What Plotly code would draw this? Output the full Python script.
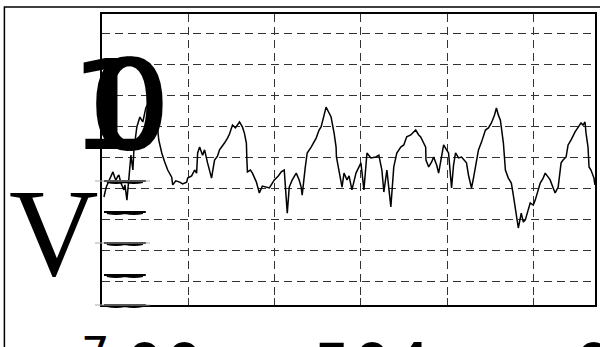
import plotly.graph_objects as go

# Time axis (ms) and measured voltage (V)
t_ms = [2.3, 4.6, 6.9, 9.2, 11.5, 12.7, 15.0, 16.2, 18.5, 19.6, 21.9, 23.1, 25.4, 26.6, 28.9,
        31.2, 32.3, 33.5, 35.8, 37.0, 40.4, 43.9, 47.3, 50.8, 54.3, 57.7, 61.2, 63.5, 65.8,
        69.3, 72.7, 76.2, 80.8, 82.0, 85.5, 90.1, 93.5, 98.2, 99.3, 103.9, 107.4, 109.7,
        110.9, 113.2, 116.6, 118.9, 122.4, 127.0, 130.5, 133.9, 136.3, 139.7, 142.0, 145.5,
        147.8, 151.3, 154.7, 159.4, 162.8, 165.1, 167.4, 168.0, 168.6, 172.1, 174.4, 179.0,
        182.4, 185.9, 190.5, 194.0, 197.5, 199.8, 204.4, 207.9, 211.3, 214.8, 217.1, 220.6,
        225.2, 228.6, 230.9, 232.1, 235.6, 237.9, 242.5, 246.0, 248.3, 251.7, 254.0, 257.5,
        259.8, 263.3, 265.6, 269.1, 271.4, 271.8, 274.8, 278.3, 280.6, 284.1, 286.4, 289.8,
        294.5, 297.9, 300.2, 303.7, 307.2, 311.8, 317.6, 321.0, 324.5, 326.8, 330.3, 334.9,
        338.3, 341.8, 346.4, 349.9, 353.3, 358.0, 363.7, 367.2, 369.5, 375.3, 375.6, 378.8,
        382.2, 384.5, 388.0, 390.3, 393.8, 396.1, 399.5, 401.8, 405.3, 407.6, 409.9, 413.4,
        416.9, 420.3, 422.6, 424.9, 428.4, 430.7, 433.0, 436.5, 440.0, 444.6, 448.0, 451.5,
        455.0, 457.3, 459.6, 461.9, 465.4, 467.7, 471.1, 474.6, 476.9, 479.2, 481.5, 482.7,
        486.1, 488.5, 490.8, 494.2, 496.5, 500.0, 502.3, 505.8, 508.1, 511.5, 513.9, 517.3,
        519.6, 523.1, 525.4, 528.9, 532.3, 534.6, 538.1, 540.4, 543.9, 548.5, 552.0, 555.4,
        557.7, 560.0, 561.2, 563.5, 564.7, 566.9, 570.4, 571.5]
voltage = [3.71, 4.00, 4.16, 4.32, 4.45, 4.52, 4.32, 4.26, 4.39, 4.42, 4.16, 4.06, 3.94, 4.10,
           3.61, 4.32, 4.74, 5.06, 4.58, 5.23, 5.97, 6.29, 6.13, 6.58, 6.77, 6.84, 6.52, 6.19,
           5.55, 5.13, 4.84, 4.58, 4.35, 4.10, 4.23, 4.19, 4.13, 4.19, 4.32, 4.39, 4.58, 4.48,
           5.13, 5.32, 5.06, 5.23, 4.81, 4.32, 4.90, 5.03, 5.23, 5.35, 5.45, 5.61, 5.74, 6.03,
           5.94, 6.13, 5.97, 5.77, 5.45, 4.90, 4.52, 4.58, 4.48, 4.19, 3.84, 4.06, 4.03, 4.00,
           4.16, 4.26, 4.39, 4.52, 4.58, 3.19, 4.03, 4.26, 4.48, 4.26, 4.03, 3.77, 4.65, 5.13,
           5.32, 5.48, 5.61, 5.87, 5.97, 6.35, 6.61, 6.42, 6.29, 5.77, 5.32, 5.00, 4.58, 4.03,
           4.48, 4.26, 4.39, 3.94, 4.48, 4.65, 4.81, 3.94, 5.13, 4.97, 5.00, 5.06, 4.58, 3.87,
           4.58, 3.39, 4.68, 5.13, 5.32, 5.39, 5.65, 5.71, 5.87, 5.71, 5.65, 5.32, 4.90, 4.68,
           4.84, 5.00, 4.74, 4.48, 5.06, 5.39, 5.23, 5.13, 4.00, 4.74, 5.13, 4.97, 5.00, 4.90,
           4.81, 4.42, 4.00, 4.32, 4.68, 5.23, 5.48, 5.87, 5.94, 6.10, 6.35, 6.58, 6.35, 6.19,
           5.45, 4.58, 4.32, 4.16, 3.77, 3.39, 2.97, 2.71, 3.19, 2.90, 2.97, 3.29, 3.52, 3.45,
           3.61, 3.94, 4.16, 4.32, 4.48, 4.35, 4.26, 4.00, 3.84, 4.03, 4.81, 4.90, 5.00, 5.39,
           5.55, 5.81, 5.94, 6.10, 6.03, 6.13, 5.77, 5.32, 4.68, 4.58, 4.32, 4.10]

x_range = [0, 571.6]
y_range = [0.226, 9.613]

# plot-area geometry (pixels) used to place decorations in paper units
L, R, T, B = 102, 597, 14, 305


def px(x):
    return (x - L) / (R - L)


def py(y):
    return (B - y) / (B - T)


fig = go.Figure()
fig.add_trace(go.Scatter(x=t_ms, y=voltage, mode="lines",
                         line=dict(color="black", width=1.5), showlegend=False,
                         hoverinfo="skip"))

axis_common = dict(showgrid=True, gridcolor="#333", gridwidth=1, griddash="8px,5px",
                   showline=True, mirror=True, linecolor="black", linewidth=1.5,
                   zeroline=False, showticklabels=False)

fig.update_xaxes(range=x_range, tick0=0, dtick=100, ticks="inside", ticklen=7,
                 tickcolor="#333", **axis_common)
fig.update_yaxes(range=y_range, tick0=0, dtick=1, ticks="", **axis_common)

shapes = []
# blank band along the left edge of the plotting area (grid hidden there)
shapes.append(dict(type="rect", xref="x", yref="paper", x0=0.8, x1=90, y0=0.003, y1=0.997,
                   fillcolor="white", line=dict(width=0), layer="below"))
# outer figure frame
shapes.append(dict(type="rect", xref="paper", yref="paper", x0=px(4), x1=px(620),
                   y0=py(380), y1=py(7), line=dict(color="black", width=1.5),
                   fillcolor="rgba(0,0,0,0)"))
# tick-label remnants on the left axis
for yy in [181, 212, 243, 275, 305]:
    path = (f"M {px(104)},{py(yy)} L {px(146)},{py(yy)} "
            f"M {px(107)},{py(yy + 1)} Q {px(116)},{py(yy + 3)} {px(125)},{py(yy + 1)} "
            f"Q {px(134)},{py(yy + 3)} {px(143)},{py(yy + 1)}")
    shapes.append(dict(type="path", xref="paper", yref="paper", path=path,
                       line=dict(color="black", width=2.2)))
for yy in [181, 243, 305]:
    shapes.append(dict(type="line", xref="paper", yref="paper", x0=px(95), x1=px(150),
                       y0=py(yy), y1=py(yy), line=dict(color="#aaa", width=1)))
fig.update_layout(shapes=shapes)

ann = []
# axis title
ann.append(dict(text="V", xref="paper", yref="paper", x=px(54), y=py(233),
                xanchor="center", yanchor="middle", showarrow=False,
                font=dict(family="Liberation Serif", size=124, color="black")))
# overlapping axis label glyphs
ann.append(dict(text="1", xref="paper", yref="paper", x=px(110), y=py(106),
                xanchor="center", yanchor="middle", showarrow=False,
                font=dict(family="DejaVu Sans", size=124, color="black")))
for cx in [128, 132]:
    ann.append(dict(text="0", xref="paper", yref="paper", x=px(cx), y=py(106),
                    xanchor="center", yanchor="middle", showarrow=False,
                    font=dict(family="DejaVu Sans", size=124, color="black")))
# bottom axis labels (mostly below the visible page)
ann.append(dict(text="7", xref="paper", yref="paper", x=px(95), y=py(325),
                xanchor="center", yanchor="top", showarrow=False,
                font=dict(family="DejaVu Sans", size=45, color="black")))
for txt, cx in [("00", 165), ("504", 373), ("0", 595)]:
    ann.append(dict(text=txt, xref="paper", yref="paper", x=px(cx), y=py(328),
                    xanchor="center", yanchor="top", showarrow=False,
                    font=dict(family="DejaVu Sans", size=62, color="black")))
fig.update_layout(annotations=ann)

fig.update_layout(width=600, height=347, autosize=False,
                  margin=dict(l=L, r=600 - R, t=T, b=347 - B),
                  paper_bgcolor="white", plot_bgcolor="white")

fig.write_html("out.html")
